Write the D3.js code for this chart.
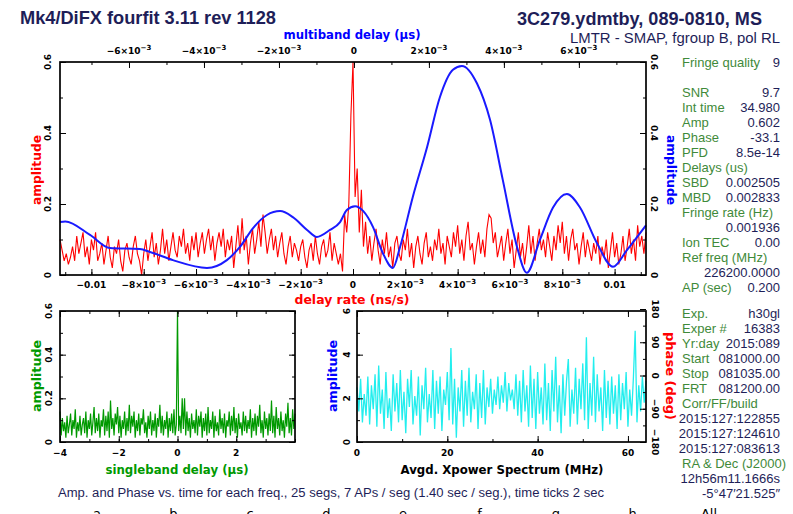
<!DOCTYPE html>
<html>
<head>
<meta charset="utf-8">
<script src="https://cdn.jsdelivr.net/npm/d3@7"></script>
<style>
  body { margin: 0; background: #fff; }
  svg { display: block; }
  .tk { font-family: "DejaVu Sans", sans-serif; font-weight: bold; font-size: 9px; fill: #000; }
  .ax { font-family: "DejaVu Sans", sans-serif; font-weight: bold; font-size: 12px; }
  .info { font-family: "Liberation Sans", Arial, sans-serif; font-size: 13px; }
</style>
</head>
<body>
<svg id="chart" width="793" height="514"></svg>
<script>
// ---- data ----
// delay-rate spectrum (ns/s), evenly spaced over the rate window
const rateDomain = [-0.0112, 0.0112];
const rateAmp = [
  0.10,0.07,0.04,0.06,0.03,0.05,0.08,0.04,
  0.11,0.06,0.09,0.12,0.05,0.08,0.03,0.10,0.07,0.12,0.04,0.06,
  0.09,0.03,0.07,0.11,0.05,0.02,0.08,0.06,0.10,0.04,0.01,0.07,0.09,0.05,0.03,0.08,0.11,0.06,0.04,
  0.00,0.06,0.10,0.04,0.08,0.12,0.05,0.09,0.03,0.07,0.13,0.06,0.10,0.04,0.08,0.12,0.07,0.05,0.11,0.08,0.13,0.06,0.09,0.04,0.11,0.07,0.12,0.05,0.09,
  0.12,0.06,0.10,0.13,0.07,0.11,0.04,0.09,0.12,0.08,0.13,0.05,0.10,0.07,0.11,0.02,0.08,0.14,0.06,
  0.16,0.07,0.11,0.03,0.09,0.13,0.06,0.10,0.15,0.08,0.17,0.12,0.06,0.10,
  0.13,0.07,0.11,0.05,0.09,0.12,0.06,0.03,0.08,0.11,0.05,0.09,0.07,0.04,
  0.08,0.10,0.05,0.02,0.07,0.09,0.04,0.11,0.06,0.03,0.08,0.10,0.05,0.07,0.12,0.04,0.09,0.06,0.03,
  0.06,0.01,0.17,0.12,0.20,0.45,0.60,0.22,0.30,0.12,0.24,0.08,0.15,
  0.06,0.11,0.04,0.09,0.13,0.07,0.03,0.10,0.06,0.12,0.05,0.08,0.02,0.09,0.11,0.06,
  0.04,0.10,0.07,0.13,0.05,0.09,0.02,0.08,0.11,0.06,0.03,0.09,0.12,0.05,0.08,0.04,0.10,0.07,0.13,0.06,0.09,0.03,0.11,0.08,
  0.05,0.12,0.08,0.14,0.06,0.10,0.04,0.11,0.15,0.07,0.09,0.03,0.08,0.12,0.06,0.10,0.05,0.13,0.17,0.16,0.09,0.12,0.05,0.08,
  0.11,0.04,0.09,0.13,0.06,0.10,0.02,0.07,0.12,0.05,0.09,0.03,0.08,0.14,0.06,0.11,0.04,0.09,0.13,0.07,0.10,0.05,0.12,0.08,0.04,0.11,0.07,0.14,
  0.09,0.15,0.06,0.11,0.04,0.10,0.13,0.07,0.09,0.03,0.08,0.12,0.05,0.10,0.07,0.04,0.09,0.06,0.11,0.03,0.08,0.05,0.10,0.02,0.07,0.12,0.05,0.09,0.03,0.06,0.11,0.04,0.08,0.13,0.06,0.10,0.04,0.14,0.08,0.11,0.06,0.12
];

// multiband delay function (units of 1e-3 us)
const mbdDomain = [-7.84, 7.79];
const mbdDelay = [-7.84,-7.70,-7.04,-6.51,-5.71,-5.44,-4.83,-3.92,-3.39,-3.04,-2.69,-2.32,-1.97,-1.63,-1.25,-0.99,-0.64,-0.37,-0.19,0.03,0.25,0.51,0.77,1.04,1.23,1.57,1.95,2.29,2.64,2.88,3.28,3.63,3.97,4.35,4.61,4.96,5.31,5.68,6.03,6.48,6.91,7.28,7.79];
const mbdAmp   = [0.149,0.151,0.113,0.076,0.073,0.065,0.042,0.020,0.042,0.079,0.132,0.169,0.180,0.163,0.127,0.107,0.127,0.149,0.183,0.194,0.180,0.135,0.062,0.020,0.079,0.220,0.360,0.500,0.578,0.589,0.540,0.437,0.268,0.079,0.006,0.099,0.190,0.228,0.190,0.090,0.023,0.070,0.140];

// singleband delay (us), evenly spaced
const sbdDomain = [-4, 4];
const sbdAmp = [
  0.14,0.03,0.11,0.05,0.09,0.02,0.12,0.04,0.08,0.13,0.03,0.10,0.06,0.15,0.02,0.09,0.05,0.12,0.03,0.08,
  0.11,0.04,0.14,0.02,0.10,0.06,0.13,0.03,0.09,0.16,0.04,0.11,0.05,0.13,0.02,0.10,0.07,0.15,0.03,0.12,
  0.05,0.14,0.02,0.19,0.06,0.11,0.03,0.13,0.08,0.16,0.04,0.12,0.02,0.10,0.06,0.14,0.03,0.11,0.05,0.17,
  0.04,0.12,0.07,0.14,0.02,0.10,0.05,0.13,0.03,0.11,0.08,0.15,0.04,0.09,0.02,0.12,0.06,0.14,0.03,0.10,
  0.05,0.13,0.02,0.11,0.07,0.17,0.04,0.12,0.03,0.10,0.06,0.14,0.02,0.11,0.05,0.13,0.04,0.15,0.03,0.08,
  0.60,
  0.05,0.12,0.04,0.20,0.06,0.20,0.03,0.14,0.05,0.11,0.02,0.13,0.06,0.10,0.04,0.15,0.03,0.12,0.07,0.14,
  0.02,0.11,0.05,0.13,0.03,0.16,0.04,0.10,0.06,0.14,0.02,0.12,0.05,0.09,0.03,0.15,0.06,0.11,0.04,0.13,
  0.02,0.10,0.07,0.14,0.03,0.12,0.05,0.16,0.04,0.11,0.02,0.13,0.06,0.09,0.03,0.14,0.05,0.12,0.04,0.10,
  0.06,0.15,0.02,0.11,0.05,0.13,0.03,0.12,0.07,0.17,0.04,0.10,0.02,0.14,0.06,0.11,0.03,0.13,0.05,0.19,
  0.04,0.12,0.02,0.16,0.06,0.11,0.03,0.14,0.05,0.10,0.02,0.13,0.07,0.18,0.04,0.11,0.03,0.15,0.06,0.13
];

// averaged cross-power spectrum amplitude, 0..64 MHz evenly spaced
const xpDomain = [0, 64];
const xpAmp = [
  2.5,1.4,2.9,0.9,2.2,1.2,3.0,0.8,2.6,1.5,3.1,0.7,3.5,1.3,2.4,0.6,3.2,1.1,2.0,0.5,
  3.1,1.4,2.7,0.9,3.3,1.0,2.3,0.4,2.9,1.6,3.3,0.8,2.1,1.2,3.0,0.3,2.6,1.5,3.4,0.9,
  2.2,1.1,3.3,0.6,2.8,1.3,3.0,0.5,2.4,1.7,3.2,1.0,4.3,0.8,2.9,0.2,2.5,1.4,3.3,0.7,
  2.8,1.2,3.4,0.9,2.3,1.5,3.1,0.6,2.7,1.1,3.3,0.8,2.5,1.6,2.9,1.3,2.4,1.7,3.0,1.5,
  2.6,1.8,3.2,1.4,2.7,1.9,2.4,1.5,3.1,1.2,2.8,0.9,3.3,1.4,2.6,0.7,3.5,1.1,2.9,0.6,
  3.2,1.3,2.5,0.8,3.6,1.0,2.7,0.5,3.3,1.4,3.9,0.9,2.6,0.4,3.1,1.2,2.8,3.8,0.7,2.4,
  1.3,3.4,0.8,2.9,1.5,3.6,1.0,4.8,0.6,2.7,1.2,3.9,0.9,3.1,1.4,2.5,0.5,3.3,1.1,2.8,
  0.8,3.0,1.3,2.6,0.6,3.1,1.0,2.7,1.5,3.2,0.7,2.4,1.2,2.9,5.1,0.9,2.6,1.4,3.0,1.8,
  2.8
];

// tick values
const rateTicks = [-0.01,-0.008,-0.006,-0.004,-0.002,0,0.002,0.004,0.006,0.008,0.01];
const mbdTicks = [-6,-4,-2,0,2,4,6];
const ampTicks = [0,0.2,0.4,0.6];
const sbdTicks = [-4,-2,0,2];
const xpTicks = [0,20,40,60];
const xpAmpTicks = [0,2,4,6];
const phaseTicks = [-180,-90,0,90,180];

const infoTop = [["Fringe quality","9"]];
const infoMid = [
  ["SNR","9.7"],["Int time","34.980"],["Amp","0.602"],["Phase","-33.1"],["PFD","8.5e-14"],
  ["Delays (us)",""],["SBD","0.002505"],["MBD","0.002833"],["Fringe rate (Hz)",""],["","0.001936"],
  ["Ion TEC","0.00"],["Ref freq (MHz)",""],["","226200.0000"],["AP (sec)","0.200"]
];
const infoLow = [
  ["Exp.","h30gl"],["Exper #","16383"],["Yr:day","2015:089"],["Start","081000.00"],["Stop","081035.00"],
  ["FRT","081200.00"],["Corr/FF/build",""],["","2015:127:122855"],["","2015:127:124610"],["","2015:127:083613"],
  ["RA & Dec (J2000)",""],["","12h56m11.1666s"],["","-5°47′21.525″"]
];
const freqLabels = ["a","b","c","d","e","f","g","h","All"];

// ---- drawing ----
const svg = d3.select("#chart");
svg.append("rect").attr("width", 793).attr("height", 514).attr("fill", "#fff");

const NAVY = "#1e1e58", OLIVE = "#3f8a3a";

function linspace(domain, n) {
  return d3.range(n).map(i => domain[0] + (domain[1] - domain[0]) * i / (n - 1));
}

function tickRow(axisFn, scale, majors, minors, tx, ty) {
  [[minors, 3], [majors, 6]].forEach(([vals, len]) => {
    svg.append("g")
      .attr("transform", `translate(${tx},${ty})`)
      .call(axisFn(scale).tickValues(vals).tickSize(-len).tickFormat(""))
      .call(g => g.select(".domain").remove())
      .selectAll("line").attr("stroke", "#000").attr("stroke-width", 1);
  });
}

function frame(x0, y0, x1, y1) {
  svg.append("rect")
    .attr("x", x0).attr("y", y0).attr("width", x1 - x0).attr("height", y1 - y0)
    .attr("fill", "none").attr("stroke", "#000").attr("stroke-width", 1.7);
}

function sciText(t, v, thousandths) {
  const m = thousandths ? v : Math.round(v * 1000);
  if (m === 0) return t.text("0");
  if (!thousandths && Math.abs(m) >= 10) return t.text((m < 0 ? "−" : "") + "0.01");
  t.append("tspan").text((m < 0 ? "−" : "") + Math.abs(m) + "×10");
  t.append("tspan").attr("dy", -4).attr("font-size", 7).text("−3");
}

function vLabel(x, y, txt, rot, color, cls, len) {
  const t = svg.append("text")
    .attr("class", cls || "tk")
    .attr("transform", `translate(${x},${y}) rotate(${rot})`)
    .attr("text-anchor", "middle").attr("dy", "0.35em")
    .attr("fill", color || "#000")
    .text(txt);
  if (len) t.attr("textLength", len).attr("lengthAdjust", "spacingAndGlyphs");
  return t;
}

function hTitle(x, y, txt, color, len) {
  return svg.append("text").attr("class", "ax").attr("x", x).attr("y", y).attr("text-anchor", "middle")
    .attr("fill", color).attr("textLength", len).attr("lengthAdjust", "spacingAndGlyphs").text(txt);
}

// ===== main panel: delay rate / multiband delay =====
const M = { x0: 60, x1: 646, y0: 62, y1: 275 };
const xRate = d3.scaleLinear().domain(rateDomain).range([M.x0, M.x1]);
const xMbd = d3.scaleLinear().domain(mbdDomain).range([M.x0, M.x1]);
const yAmp = d3.scaleLinear().domain([0, 0.6]).range([M.y1, M.y0]);

const rateX = linspace(rateDomain, rateAmp.length);
svg.append("path")
  .attr("d", d3.line().x((d, i) => xRate(rateX[i])).y(d => yAmp(d))(rateAmp))
  .attr("fill", "none").attr("stroke", "#ff0000").attr("stroke-width", 1.1);

svg.append("path")
  .attr("d", d3.line().curve(d3.curveMonotoneX).x((d, i) => xMbd(mbdDelay[i])).y(d => yAmp(d))(mbdAmp))
  .attr("fill", "none").attr("stroke", "#1a1aff").attr("stroke-width", 2);

tickRow(d3.axisBottom, xRate, rateTicks, d3.range(-11, 12).map(k => k / 1000), 0, M.y1);
tickRow(d3.axisTop, xMbd, mbdTicks, d3.range(-7, 8), 0, M.y0);
tickRow(d3.axisLeft, yAmp, ampTicks, d3.range(0, 0.61, 0.1), M.x0, 0);
tickRow(d3.axisRight, yAmp, ampTicks, d3.range(0, 0.61, 0.1), M.x1, 0);
frame(M.x0, M.y0, M.x1, M.y1);

rateTicks.forEach(v => {
  const t = svg.append("text").attr("class", "tk").attr("x", xRate(v)).attr("y", 288).attr("text-anchor", "middle");
  sciText(t, v, false);
});
mbdTicks.forEach(v => {
  const t = svg.append("text").attr("class", "tk").attr("x", xMbd(v)).attr("y", 54).attr("text-anchor", "middle");
  sciText(t, v, true);
});
ampTicks.forEach(v => {
  vLabel(48, yAmp(v), v === 0 ? "0" : v.toFixed(1), -90);
  vLabel(654, yAmp(v), v === 0 ? "0" : v.toFixed(1), 90);
});

hTitle(352, 39, "multiband delay (µs)", "#0000ff", 137);
hTitle(352, 304, "delay rate (ns/s)", "#ff0000", 115);
vLabel(37, 170, "amplitude", -90, "#ff0000", "ax", 70);
vLabel(671, 170, "amplitude", 90, "#0000ff", "ax", 70);

// ===== singleband delay panel =====
const S = { x0: 60, x1: 295, y0: 311, y1: 442 };
const xSbd = d3.scaleLinear().domain(sbdDomain).range([S.x0, S.x1]);
const ySbd = d3.scaleLinear().domain([0, 0.6]).range([S.y1, S.y0]);
const sbdX = linspace(sbdDomain, sbdAmp.length);
svg.append("path")
  .attr("d", d3.line().x((d, i) => xSbd(sbdX[i])).y(d => ySbd(d))(sbdAmp))
  .attr("fill", "none").attr("stroke", "#009900").attr("stroke-width", 1.2);
tickRow(d3.axisBottom, xSbd, sbdTicks, d3.range(-4, 5), 0, S.y1);
tickRow(d3.axisTop, xSbd, sbdTicks, d3.range(-4, 5), 0, S.y0);
tickRow(d3.axisLeft, ySbd, ampTicks, d3.range(0, 0.61, 0.1), S.x0, 0);
tickRow(d3.axisRight, ySbd, ampTicks, d3.range(0, 0.61, 0.1), S.x1, 0);
frame(S.x0, S.y0, S.x1, S.y1);
sbdTicks.forEach(v => {
  svg.append("text").attr("class", "tk").attr("x", xSbd(v)).attr("y", 456).attr("text-anchor", "middle")
    .text(v < 0 ? "−" + Math.abs(v) : v);
});
ampTicks.forEach(v => vLabel(49, ySbd(v), v === 0 ? "0" : v.toFixed(1), -90));
vLabel(37, 376, "amplitude", -90, "#009900", "ax", 72);
hTitle(177, 474, "singleband delay (µs)", "#009900", 143);

// ===== cross-power spectrum panel =====
const P = { x0: 357, x1: 646, y0: 311, y1: 442 };
const xXp = d3.scaleLinear().domain(xpDomain).range([P.x0, P.x1]);
const yXp = d3.scaleLinear().domain([0, 6]).range([P.y1, P.y0]);
const yPh = d3.scaleLinear().domain([-180, 180]).range([P.y1, P.y0 - 2]);
const xpX = linspace(xpDomain, xpAmp.length);
svg.append("path")
  .attr("d", d3.line().x((d, i) => xXp(xpX[i])).y(d => yXp(d))(xpAmp))
  .attr("fill", "none").attr("stroke", "#22eeee").attr("stroke-width", 1.3);
tickRow(d3.axisBottom, xXp, xpTicks, d3.range(0, 65, 10), 0, P.y1);
tickRow(d3.axisTop, xXp, xpTicks, d3.range(0, 65, 10), 0, P.y0);
tickRow(d3.axisLeft, yXp, xpAmpTicks, d3.range(0, 7), P.x0, 0);
tickRow(d3.axisRight, yPh, phaseTicks, d3.range(-180, 181, 45), P.x1, 0);
frame(P.x0, P.y0, P.x1, P.y1);
xpTicks.forEach(v => {
  svg.append("text").attr("class", "tk").attr("x", xXp(v)).attr("y", 456).attr("text-anchor", "middle").text(v);
});
xpAmpTicks.forEach(v => vLabel(347, yXp(v), String(v), -90));
phaseTicks.forEach(v => vLabel(655, yPh(v), v < 0 ? "−" + Math.abs(v) : String(v), 90));
vLabel(333, 376, "amplitude", -90, "#0000ff", "ax", 72);
vLabel(670, 376, "phase (deg)", 90, "#ff0000", "ax", 88);
hTitle(502, 474, "Avgd. Xpower Spectrum (MHz)", "#000", 203);

// ===== headers =====
svg.append("text").attr("x", 20).attr("y", 24)
  .attr("font-family", "Liberation Sans, Arial, sans-serif")
  .attr("font-size", 18).attr("font-weight", "bold").attr("fill", NAVY)
  .attr("textLength", 256).attr("lengthAdjust", "spacingAndGlyphs")
  .text("Mk4/DiFX fourfit 3.11 rev 1128");
svg.append("text").attr("x", 517).attr("y", 25)
  .attr("font-family", "Liberation Sans, Arial, sans-serif")
  .attr("font-size", 18).attr("font-weight", "bold").attr("fill", NAVY)
  .attr("textLength", 245).attr("lengthAdjust", "spacingAndGlyphs")
  .text("3C279.ydmtby, 089-0810, MS");
svg.append("text").attr("x", 570).attr("y", 43)
  .attr("font-family", "Liberation Sans, Arial, sans-serif")
  .attr("font-size", 14).attr("fill", NAVY)
  .attr("textLength", 210).attr("lengthAdjust", "spacingAndGlyphs")
  .text("LMTR - SMAP, fgroup B, pol RL");

// ===== info column =====
function infoBlock(rows, y0) {
  rows.forEach(([label, value], i) => {
    const y = y0 + i * 15;
    if (label) svg.append("text").attr("class", "info").attr("x", 682).attr("y", y)
      .attr("fill", OLIVE).text(label);
    if (value) svg.append("text").attr("class", "info").attr("x", 780).attr("y", y)
      .attr("text-anchor", "end").attr("fill", NAVY).text(value);
  });
}
infoBlock(infoTop, 67);
infoBlock(infoMid, 97);
infoBlock(infoLow, 318);

// ===== footer =====
svg.append("text").attr("x", 58).attr("y", 497)
  .attr("font-family", "Liberation Sans, Arial, sans-serif").attr("font-size", 12).attr("fill", NAVY)
  .attr("textLength", 546).attr("lengthAdjust", "spacingAndGlyphs")
  .text("Amp. and Phase vs. time for each freq., 25 segs, 7 APs / seg (1.40 sec / seg.), time ticks 2 sec");
freqLabels.forEach((f, i) => {
  svg.append("text").attr("x", 97 + i * 76.5).attr("y", 518).attr("text-anchor", "middle")
    .attr("font-family", "DejaVu Sans, sans-serif").attr("font-size", 13).attr("fill", "#000").text(f);
});
</script>
</body>
</html>
